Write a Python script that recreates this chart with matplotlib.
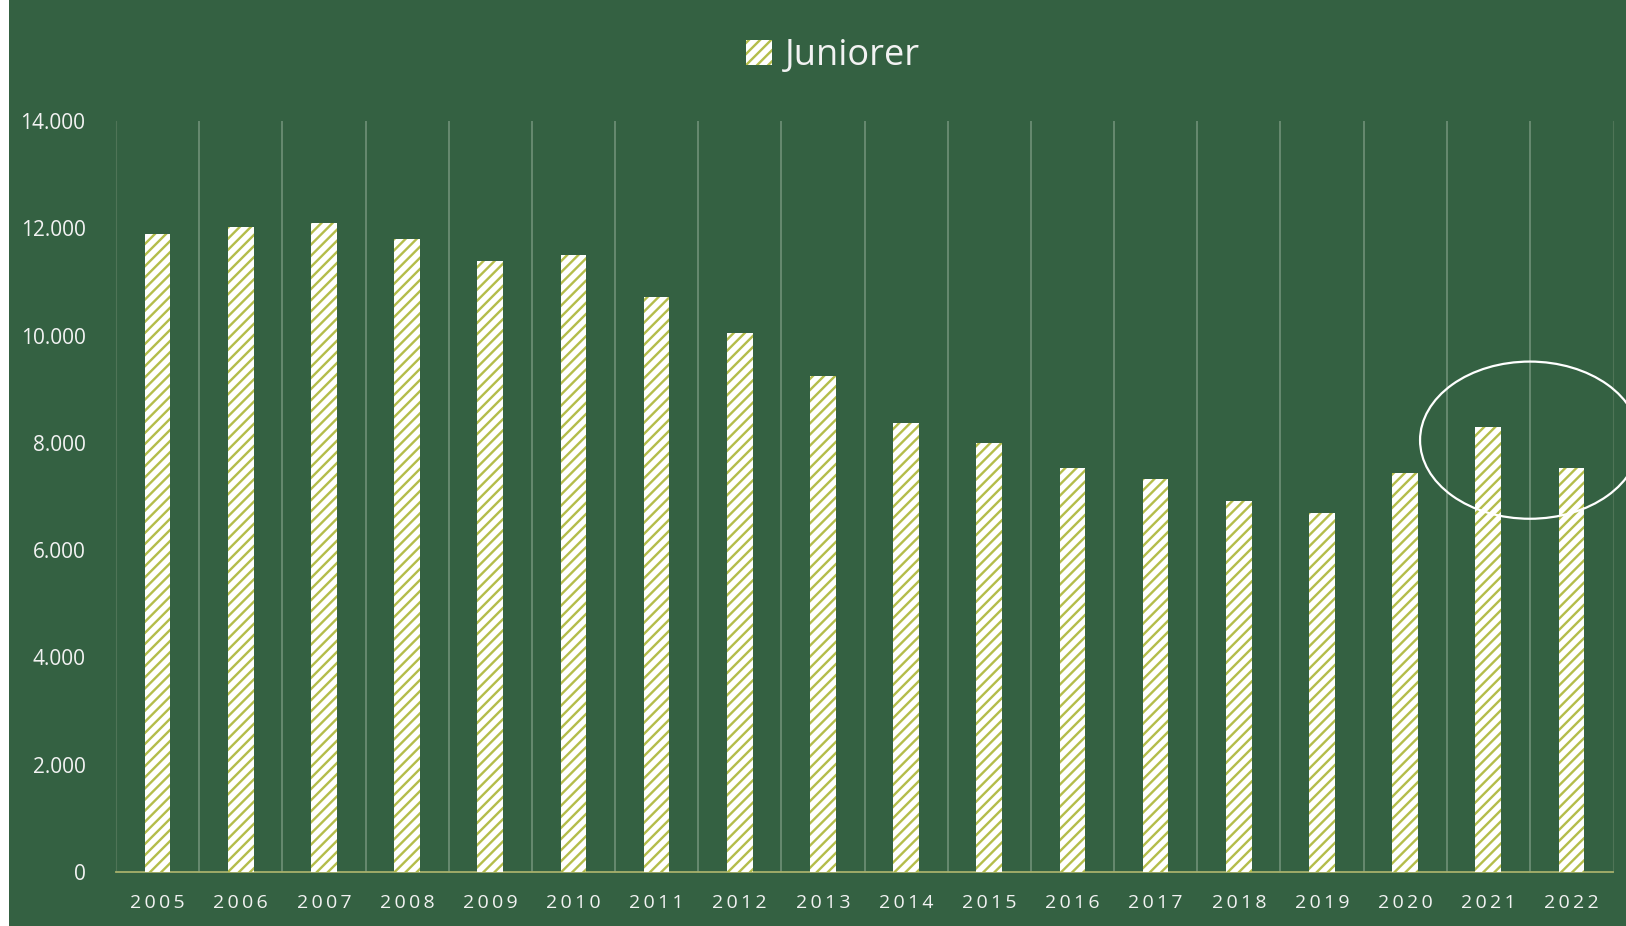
import numpy as np
import matplotlib
matplotlib.use('Agg')
import matplotlib.pyplot as plt
from matplotlib.patches import Ellipse, Rectangle

years = [2005, 2006, 2007, 2008, 2009, 2010, 2011, 2012, 2013,
         2014, 2015, 2016, 2017, 2018, 2019, 2020, 2021, 2022]
juniorer = [11900, 12030, 12090, 11800, 11390, 11510, 10710, 10040, 9240,
            8370, 7990, 7540, 7330, 6920, 6690, 7430, 8300, 7540]
series_name = 'Juniorer'
yticks = [0, 2000, 4000, 6000, 8000, 10000, 12000, 14000]

bg = '#346142'
txt = '#f2f2f2'
hatch_col = '#b4bd4a'

plt.rcParams['font.family'] = ['Open Sans', 'DejaVu Sans']
plt.rcParams['hatch.linewidth'] = 1.7

W, H = 1626, 926
fig = plt.figure(figsize=(W / 100, H / 100), dpi=100)
fig.patch.set_facecolor(bg)
# white strip at left edge
fig.add_artist(Rectangle((0, 0), 9 / W, 1, transform=fig.transFigure,
                         facecolor='white', edgecolor='none'))

ax = fig.add_axes([116 / W, 1 - 872 / H, (1613 - 116) / W, (872 - 121) / H])
ax.set_facecolor(bg)

x = np.arange(len(years))
bars = ax.bar(x, juniorer, width=0.31, color='white', edgecolor=hatch_col,
              linewidth=0, hatch='///', label=series_name, zorder=3)

ax.set_xlim(-0.5, len(years) - 0.5)
ax.set_ylim(0, 14000)

# vertical gridlines between categories
for b in np.arange(0.5, len(years) - 0.5):
    ax.axvline(b, color='#6f9077', lw=1.2, zorder=1)

ax.spines['top'].set_visible(False)
ax.spines['left'].set_color('#4f7457')
ax.spines['right'].set_color('#4f7457')
ax.spines['bottom'].set_color('#a7b06b')
ax.spines['bottom'].set_linewidth(1.3)

ax.set_yticks(yticks)
ax.set_yticklabels(['{:,}'.format(v).replace(',', '.') for v in yticks])
ax.set_xticks(x)
ax.set_xticklabels(['\u2009'.join(str(y)) for y in years])
ax.tick_params(axis='y', length=0, pad=22, labelsize=15, labelcolor=txt)
ax.tick_params(axis='x', length=0, pad=16, labelsize=14, labelcolor=txt)

# highlight circle around 2021/2022
ell = Ellipse((16.5, 8050), 2.64, 2930, fill=False, edgecolor='white',
              lw=1.6, clip_on=False, zorder=4)
ax.add_patch(ell)

leg = fig.legend(handles=[bars], labels=[series_name], loc='center',
                 bbox_to_anchor=(833 / W, 1 - 56 / H), frameon=False,
                 fontsize=26, handlelength=0.7, handleheight=0.7,
                 handletextpad=0.35, labelcolor=txt)

fig.savefig('out.png', dpi=100, facecolor=fig.get_facecolor())
